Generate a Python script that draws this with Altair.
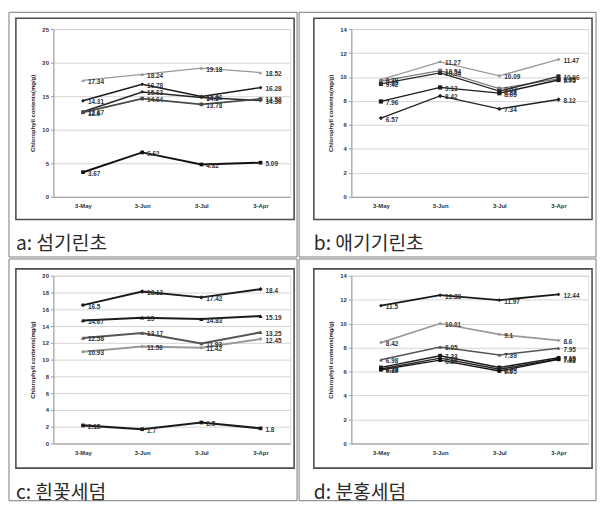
import altair as alt
import pandas as pd

months = ["3-May", "3-Jun", "3-Jul", "3-Apr"]

# Panel a: 섬기린초
a_s1 = [17.34, 18.24, 19.18, 18.52]
a_s2 = [14.31, 16.78, 14.96, 16.28]
a_s3 = [12.67, 15.63, 14.80, 14.36]
a_s4 = [12.60, 14.64, 13.78, 14.58]
a_s5 = [3.67, 6.62, 4.82, 5.09]

# Panel b: 애기기린초
b_s1 = [9.78, 11.27, 10.09, 11.47]
b_s2 = [9.65, 10.54, 9.03, 9.85]
b_s3 = [9.42, 10.34, 8.82, 10.06]
b_s4 = [7.96, 9.13, 8.65, 9.75]
b_s5 = [6.57, 8.42, 7.34, 8.12]

# Panel c: 흰꽃세덤
c_s1 = [16.5, 18.13, 17.42, 18.4]
c_s2 = [14.67, 15.00, 14.83, 15.19]
c_s3 = [12.58, 13.17, 11.93, 13.25]
c_s4 = [10.93, 11.56, 11.42, 12.45]
c_s5 = [2.15, 1.7, 2.5, 1.8]

# Panel d: 분홍세덤
d_s1 = [11.5, 12.38, 11.97, 12.44]
d_s2 = [8.42, 10.01, 9.1, 8.6]
d_s3 = [6.98, 8.05, 7.39, 7.95]
d_s4 = [6.35, 7.33, 6.35, 7.15]
d_s5 = [6.22, 7.12, 6.2, 7.05]
d_s6 = [6.15, 6.95, 6.05, 7.02]

captions = ["a: 섬기린초", "b: 애기기린초", "c: 흰꽃세덤", "d: 분홍세덤"]
y_title = "Chlorophyll contents(mg/g)"

# styles (per series in each panel)
styles = {
    "a": dict(colors=["#999999", "#1a1a1a", "#262626", "#4a4a4a", "#111111"],
              widths=[1.3, 2.0, 1.8, 1.4, 2.2],
              shapes=["triangle-up", "diamond", "diamond", "square", "square"],
              sizes=[14, 14, 14, 10, 30]),
    "b": dict(colors=["#999999", "#7a7a7a", "#2a2a2a", "#1a1a1a", "#222222"],
              widths=[1.3, 1.4, 1.8, 2.2, 1.6],
              shapes=["diamond", "square", "square", "square", "diamond"],
              sizes=[14, 20, 20, 28, 14]),
    "c": dict(colors=["#1a1a1a", "#1a1a1a", "#555555", "#999999", "#1a1a1a"],
              widths=[2.0, 2.2, 1.5, 1.3, 2.2],
              shapes=["diamond", "triangle-up", "triangle-up", "diamond", "square"],
              sizes=[20, 14, 14, 14, 30]),
    "d": dict(colors=["#1a1a1a", "#999999", "#555555", "#1a1a1a", "#222222", "#111111"],
              widths=[1.8, 1.3, 1.5, 2.0, 2.0, 2.2],
              shapes=["diamond", "diamond", "triangle-up", "square", "square", "square"],
              sizes=[14, 14, 14, 26, 26, 26]),
}


def make_df(key, series_list):
    rows = []
    for i, vals in enumerate(series_list):
        for m, v in zip(months, vals):
            rows.append({"series": f"{key}{i+1}", "month": m, "value": v, "label": f"{v:g}"})
    return pd.DataFrame(rows)


def panel(key, series_list, ymax, ystep, caption, cell_x, cell_y, plot_h, frame_y):
    df = make_df(key, series_list)
    st = styles[key]
    ids = [f"{key}{i+1}" for i in range(len(series_list))]
    W = 240
    x = alt.X("month:N", sort=months,
              scale=alt.Scale(type="point", domain=months, padding=0.5),
              axis=alt.Axis(title=None, labelFontSize=6, labelFontWeight="bold",
                            labelColor="#333", labelAngle=0, ticks=False,
                            domainColor="#999", labelPadding=6, grid=False))
    y = alt.Y("value:Q", scale=alt.Scale(domain=[0, ymax], nice=False),
              axis=alt.Axis(title=y_title, titleFontSize=6, titleFontWeight="bold",
                            titleColor="#222", titlePadding=6,
                            values=list(range(0, ymax + 1, ystep)),
                            labelFontSize=6, labelFontWeight="bold", labelColor="#333",
                            tickSize=3, tickColor="#999", domainColor="#999",
                            gridColor="#d4d4d4", gridWidth=1))
    color = alt.Color("series:N", scale=alt.Scale(domain=ids, range=st["colors"]), legend=None)
    base = alt.Chart(df).encode(x=x, y=y, color=color, detail="series:N")
    lines = base.mark_line().encode(
        strokeWidth=alt.StrokeWidth("series:N", scale=alt.Scale(domain=ids, range=st["widths"]), legend=None))
    pts = base.mark_point(filled=True, opacity=1).encode(
        shape=alt.Shape("series:N", scale=alt.Scale(domain=ids, range=st["shapes"]), legend=None),
        size=alt.Size("series:N", scale=alt.Scale(domain=ids, range=st["sizes"]), legend=None))
    txt = alt.Chart(df).mark_text(align="left", baseline="middle", dx=5, dy=1.5,
                                  fontSize=6.5, fontWeight="bold", color="#333").encode(
        x=x, y=y, text="label:N")

    one = alt.Chart(pd.DataFrame({"k": [0]}))
    frame = one.mark_rect(fillOpacity=0, stroke="#4d4d4d", strokeWidth=1.6).encode(
        x=alt.value(-38), x2=alt.value(W + 4), y=alt.value(frame_y[0]), y2=alt.value(frame_y[1]))
    cell = one.mark_rect(fillOpacity=0, stroke="#7a7a7a", strokeWidth=1).encode(
        x=alt.value(cell_x[0]), x2=alt.value(cell_x[1]), y=alt.value(cell_y[0]), y2=alt.value(cell_y[1]))
    cap = one.mark_text(align="left", baseline="alphabetic", fontSize=19.5,
                        font="Noto Sans CJK KR", color="#2b2b2b").encode(
        x=alt.value(-38), y=alt.value(frame_y[1] + 31), text=alt.value(caption))

    return alt.layer(cell, frame, lines, pts, txt, cap).properties(width=W, height=plot_h)


def indep(c):
    return c.resolve_scale(color="independent", strokeWidth="independent",
                           shape="independent", size="independent",
                           x="independent", y="independent")


pa = panel("a", [a_s1, a_s2, a_s3, a_s4, a_s5], 25, 5, captions[0],
           (-45, 247), (-17, 231), 170, (-11, 193))
pb = panel("b", [b_s1, b_s2, b_s3, b_s4, b_s5], 14, 2, captions[1],
           (-53, 248), (-17, 231), 170, (-11, 193))
pc = panel("c", [c_s1, c_s2, c_s3, c_s4, c_s5], 20, 2, captions[2],
           (-45, 247), (-17, 228), 170, (-7, 195))
pd_ = panel("d", [d_s1, d_s2, d_s3, d_s4, d_s5, d_s6], 14, 2, captions[3],
            (-53, 248), (-17, 228), 170, (-7, 195))

chart = indep(alt.vconcat(
    indep(alt.hconcat(pa, pb, spacing=0)),
    indep(alt.hconcat(pc, pd_, spacing=0)),
    spacing=0,
)).properties(padding=0).configure_view(stroke=None).configure(background="white")

chart.save("out.html", embed_options={"renderer": "svg", "actions": False})
